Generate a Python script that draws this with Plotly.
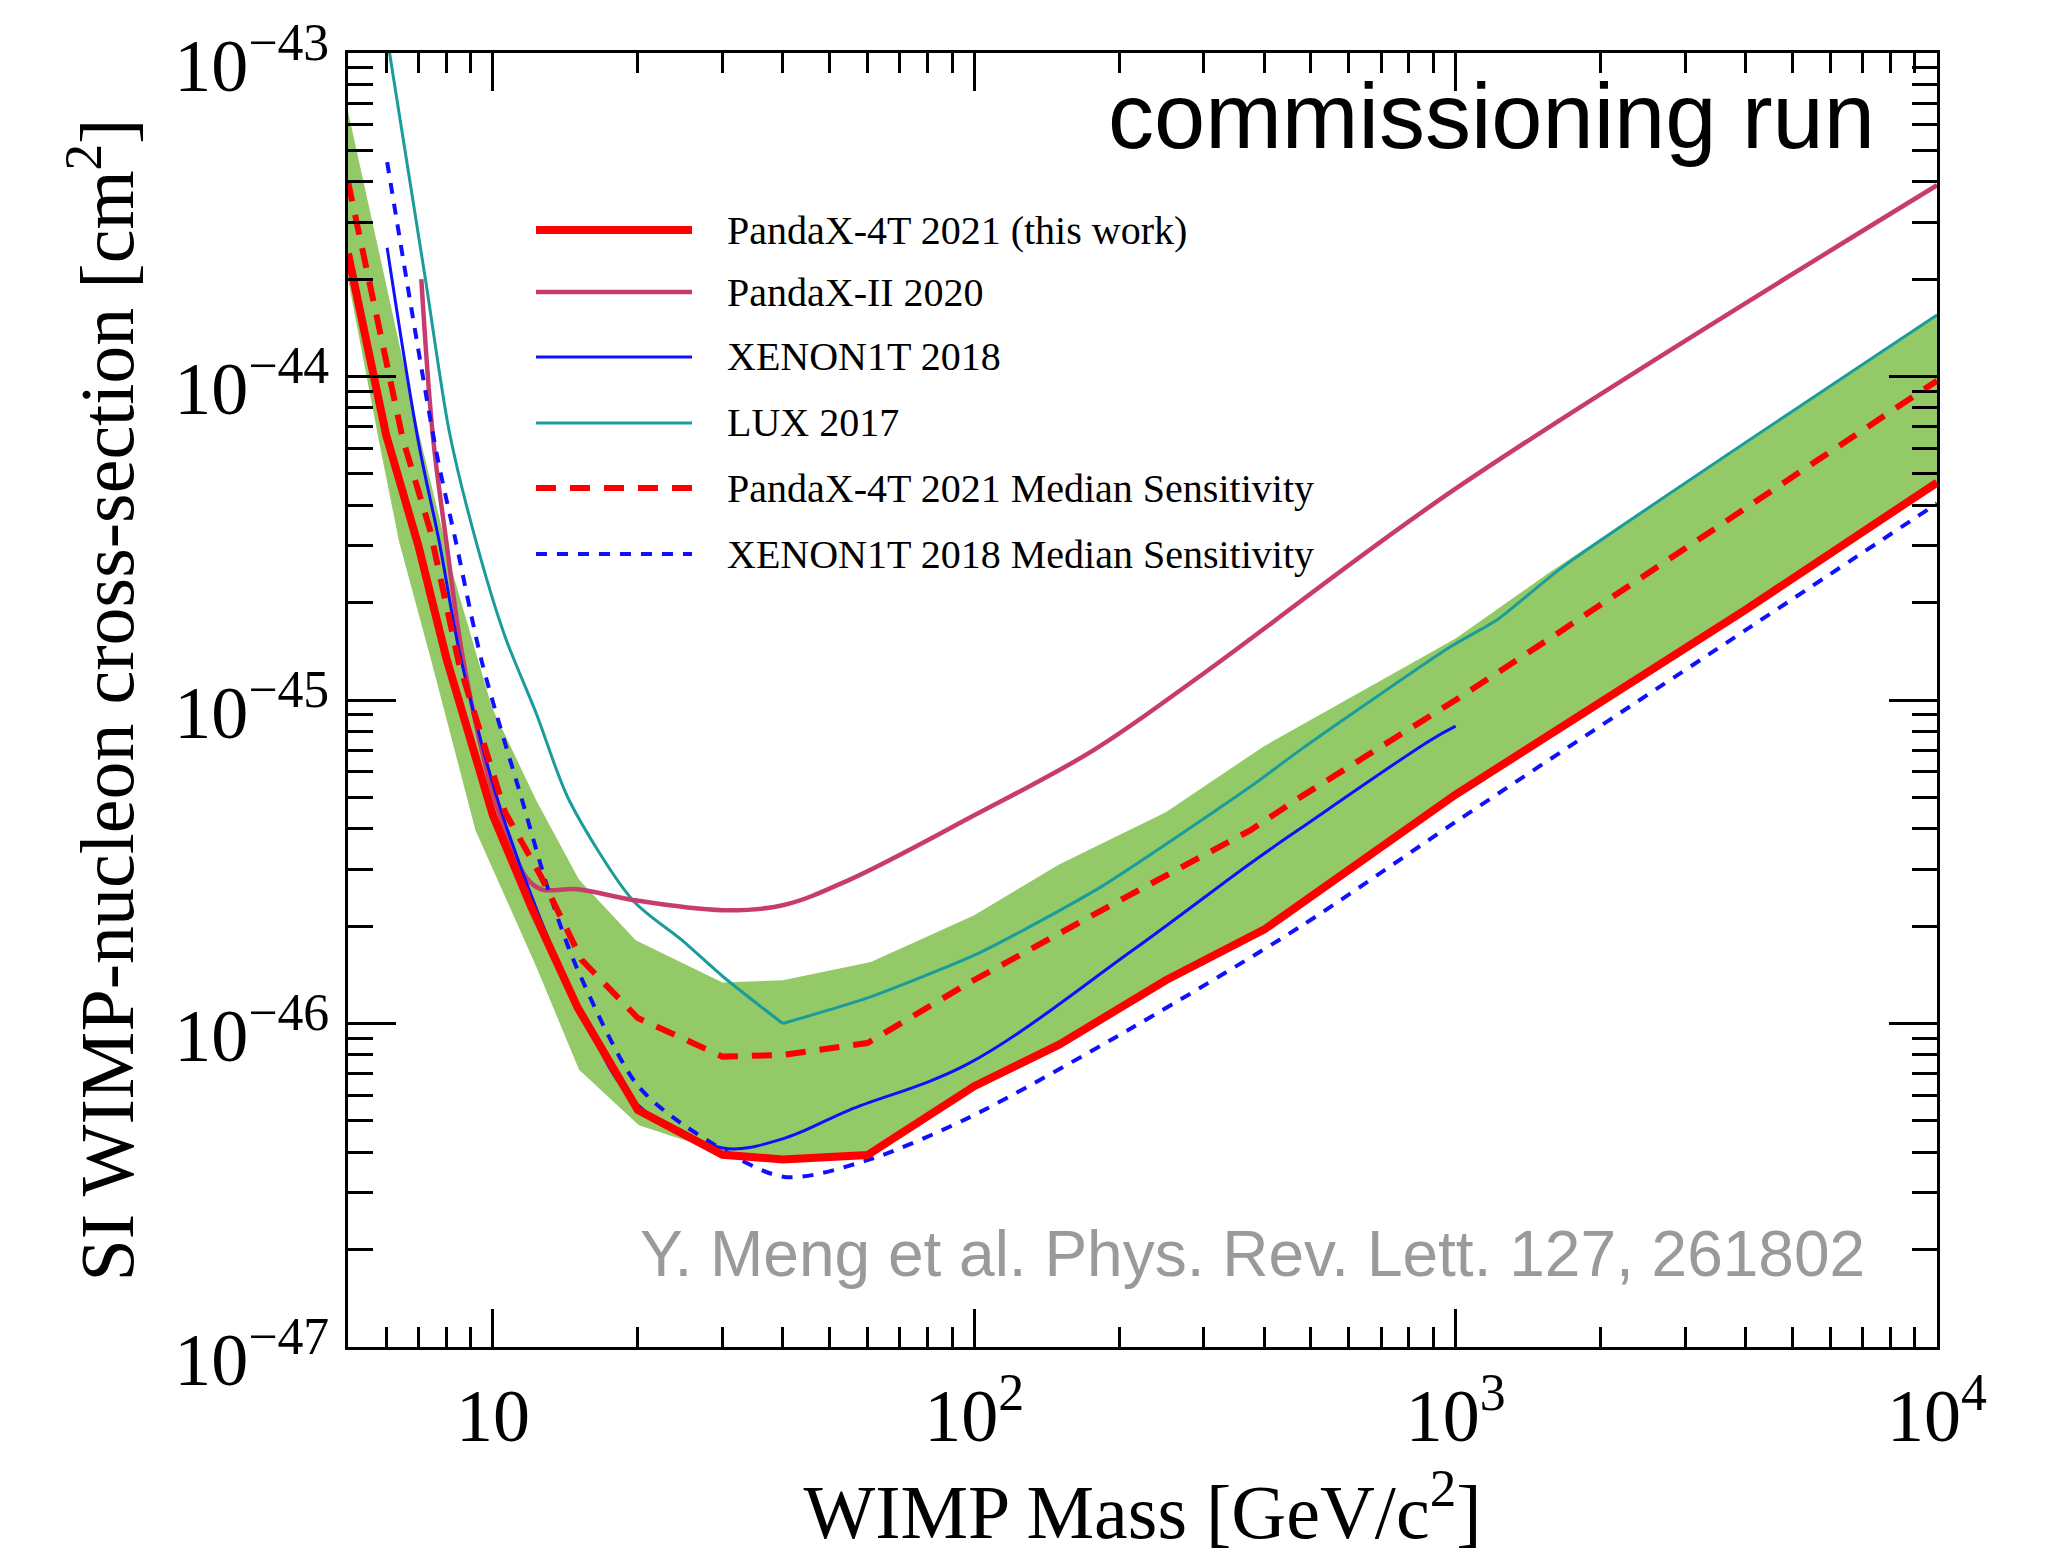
import plotly.graph_objects as go

# ---------------- data ----------------
# PandaX-4T 2021 (this work) - observed limit
m_4t = [5, 6, 7, 8, 10, 12, 15, 20, 30, 40, 60, 100, 150, 250, 400, 1000, 4000, 10000]
s_4t = [2.4e-44, 6.6e-45, 3.0e-45, 1.35e-45, 4.4e-46, 2.3e-46, 1.12e-46, 5.4e-47, 3.93e-47,
        3.8e-47, 3.92e-47, 6.4e-47, 8.6e-47, 1.36e-46, 1.95e-46, 5.1e-46, 1.9e-45, 4.7e-45]

# PandaX-4T 2021 median sensitivity
m_4t_med = [5, 6.5, 7.4, 8.5, 10.6, 12.6, 15.3, 20, 30, 40, 60, 97, 214, 375, 475, 1000, 1570, 10000]
s_4t_med = [4.0e-44, 6.4e-45, 3.36e-45, 1.3e-45, 4.5e-46, 2.84e-46, 1.57e-46, 1.04e-46, 7.9e-47,
            8.0e-47, 8.7e-47, 1.33e-46, 2.53e-46, 3.96e-46, 5.0e-46, 1.0e-45, 1.55e-45, 9.7e-45]

# +/- 1 sigma sensitivity band
m_band_up = [5, 7.0, 8.23, 9.95, 12.3, 15.1, 19.8, 30, 40, 61, 100, 150, 250, 400, 1000, 1550, 10000]
s_band_up = [6.6e-44, 6.8e-45, 2.5e-45, 9.5e-46, 4.9e-46, 2.78e-46, 1.81e-46, 1.34e-46, 1.36e-46,
             1.55e-46, 2.16e-46, 3.1e-46, 4.5e-46, 7.2e-46, 1.55e-45, 2.45e-45, 1.56e-44]
m_band_lo = [5, 5.8, 6.38, 7.47, 9.2, 12.3, 15.1, 20.1, 29, 40, 60, 100, 150, 250, 400, 1000, 4000, 10000]
s_band_lo = [2.0e-44, 6.3e-45, 3.1e-45, 1.3e-45, 3.96e-46, 1.5e-46, 7.2e-47, 4.85e-47, 4.06e-47,
             3.75e-47, 3.88e-47, 6.3e-47, 8.5e-47, 1.35e-46, 1.93e-46, 5.1e-46, 1.9e-45, 4.65e-45]

# PandaX-II 2020
m_p2 = [7.1, 7.5, 8.0, 8.7, 10.1, 11.7, 12.6, 15, 19.5, 30, 40, 55, 100, 177, 300, 1000, 10000]
s_p2 = [2.0e-44, 6.6e-45, 3.1e-45, 1.3e-45, 4.9e-46, 2.84e-46, 2.6e-46, 2.6e-46, 2.41e-46,
        2.24e-46, 2.32e-46, 2.78e-46, 4.4e-46, 7.0e-46, 1.21e-45, 4.5e-45, 3.9e-44]

# XENON1T 2018
m_x1t = [6.03, 7.0, 7.73, 8.62, 10.6, 15, 20, 30, 40, 55, 97, 214, 375, 475, 885, 1000]
s_x1t = [2.5e-44, 6.3e-45, 3.1e-45, 1.3e-45, 4.17e-46, 1.15e-46, 5.6e-47, 4.12e-47, 4.4e-47,
         5.4e-47, 7.5e-47, 1.69e-46, 3.13e-46, 4.0e-46, 7.5e-46, 8.3e-46]

# LUX 2017 (smooth part up to the 40 GeV kink, then the high-mass part)
m_lux = [6.1, 7.26, 8.11, 9.22, 10.6, 12.3, 14.4, 19.5, 24.7, 30, 40, 60, 103, 183, 375, 475,
         975, 1220, 1670, 10000]
s_lux = [1.0e-43, 1.95e-44, 6.8e-45, 3.1e-45, 1.57e-45, 9.1e-46, 4.9e-46, 2.41e-46, 1.81e-46,
         1.4e-46, 1.0e-46, 1.2e-46, 1.66e-46, 2.64e-46, 5.4e-46, 7.0e-46, 1.46e-45, 1.77e-45,
         2.58e-45, 1.55e-44]
lux_kink = 10  # index of the 40 GeV point

# XENON1T 2018 median sensitivity
m_x1t_med = [6.03, 7.62, 8.37, 9.5, 11.5, 13.1, 14.9, 19.8, 24.7, 40, 60, 97, 214, 475, 1000, 4090, 10000]
s_x1t_med = [4.6e-44, 5.9e-45, 3.1e-45, 1.3e-45, 4.9e-46, 2.53e-46, 1.5e-46, 6.55e-47, 4.9e-47,
             3.36e-47, 3.78e-47, 5.1e-47, 9.75e-47, 1.99e-46, 4.2e-46, 1.68e-45, 4.05e-45]

# axis ticks
x_major = [10, 100, 1000, 10000]
x_major_text = ["10", "10<sup>2</sup>", "10<sup>3</sup>", "10<sup>4</sup>"]
x_minor = [6, 7, 8, 9] + [k * 10 for k in range(2, 10)] + [k * 100 for k in range(2, 10)] + \
          [k * 1000 for k in range(2, 10)]
y_major = [1e-47, 1e-46, 1e-45, 1e-44, 1e-43]
y_major_text = ["10<sup>\u221247</sup>", "10<sup>\u221246</sup>", "10<sup>\u221245</sup>",
                "10<sup>\u221244</sup>", "10<sup>\u221243</sup>"]
y_minor = [k * 10.0 ** d for d in range(-47, -43) for k in range(2, 10)]

# legend entries
legend_labels = ["PandaX-4T 2021 (this work)", "PandaX-II 2020", "XENON1T 2018", "LUX 2017",
                 "PandaX-4T 2021 Median Sensitivity", "XENON1T 2018 Median Sensitivity"]

# ---------------- styles ----------------
RED = "#ff0000"
PINK = "#c83c6c"
BLUE = "#1010ff"
TEAL = "#1a9c9c"
GREEN = "#93c966"
SERIF = "Liberation Serif, Times New Roman, serif"
SANS = "Liberation Sans, Arial, Helvetica, sans-serif"

styles = [
    dict(color=RED, width=8, dash="solid"),
    dict(color=PINK, width=4.5, dash="solid"),
    dict(color=BLUE, width=3, dash="solid"),
    dict(color=TEAL, width=3, dash="solid"),
    dict(color=RED, width=6, dash="20px,14px"),
    dict(color=BLUE, width=4, dash="11px,10px"),
]

fig = go.Figure()

# band polygon
fig.add_trace(go.Scatter(
    x=m_band_up + m_band_lo[::-1], y=s_band_up + s_band_lo[::-1],
    fill="toself", fillcolor=GREEN, line=dict(width=0, color=GREEN),
    mode="lines", showlegend=False, hoverinfo="skip"))

fig.add_trace(go.Scatter(x=m_lux[:lux_kink + 1], y=s_lux[:lux_kink + 1], mode="lines",
                         line=dict(**styles[3], shape="spline", smoothing=0.8), showlegend=False))
fig.add_trace(go.Scatter(x=m_lux[lux_kink:], y=s_lux[lux_kink:], mode="lines",
                         line=dict(**styles[3], shape="spline", smoothing=0.6), showlegend=False))
fig.add_trace(go.Scatter(x=m_p2, y=s_p2, mode="lines", line=dict(**styles[1], shape="spline", smoothing=1.0),
                         showlegend=False))
fig.add_trace(go.Scatter(x=m_x1t_med, y=s_x1t_med, mode="lines",
                         line=dict(**styles[5], shape="spline", smoothing=0.8), showlegend=False))
fig.add_trace(go.Scatter(x=m_x1t, y=s_x1t, mode="lines", line=dict(**styles[2], shape="spline", smoothing=1.0),
                         showlegend=False))
fig.add_trace(go.Scatter(x=m_4t_med, y=s_4t_med, mode="lines", line=styles[4], showlegend=False))
fig.add_trace(go.Scatter(x=m_4t, y=s_4t, mode="lines", line=styles[0], showlegend=False))

# manual legend (long line samples like the original)
leg_y = [0.8632, 0.8153, 0.7651, 0.7141, 0.6638, 0.6128]
for lab, st, yy in zip(legend_labels, styles, leg_y):
    fig.add_shape(type="line", xref="x domain", yref="y domain", x0=0.1183, x1=0.2165, y0=yy, y1=yy,
                  line=dict(color=st["color"], width=st["width"], dash=st["dash"]))
    fig.add_annotation(xref="x domain", yref="y domain", x=0.2373, y=yy, xanchor="left", yanchor="middle",
                       text=lab, showarrow=False, font=dict(family=SERIF, size=40, color="black"))

fig.add_annotation(xref="x domain", yref="y domain", x=0.962, y=0.9513, xanchor="right", yanchor="middle",
                   text="commissioning run", showarrow=False, font=dict(family=SANS, size=92, color="black"))
fig.add_annotation(xref="x domain", yref="y domain", x=0.956, y=0.0719, xanchor="right", yanchor="middle",
                   text="Y. Meng et al. Phys. Rev. Lett. 127, 261802", showarrow=False,
                   font=dict(family=SANS, size=64, color="#9a9a9a"))

axis_common = dict(showgrid=False, zeroline=False, showline=True, linecolor="black", linewidth=3,
                   mirror="ticks", ticks="inside", tickcolor="black", tickwidth=2.5,
                   tickfont=dict(family=SERIF, size=74, color="black"))

fig.update_xaxes(type="log", range=[0.69897, 4], tickmode="array", tickvals=x_major, ticktext=x_major_text,
                 ticklen=38, ticklabelstandoff=2,
                 minor=dict(tickmode="array", tickvals=x_minor, ticks="inside", ticklen=20,
                            tickcolor="black", tickwidth=2.5, showgrid=False),
                 title=dict(text="WIMP Mass [GeV/c<sup>2</sup>]", font=dict(family=SERIF, size=76, color="black"),
                            standoff=34),
                 **axis_common)
fig.update_yaxes(type="log", range=[-47, -43], tickmode="array", tickvals=y_major, ticktext=y_major_text,
                 ticklen=48, ticklabelstandoff=1, ticklabelshift=12, ticklabeloverflow="allow",
                 minor=dict(tickmode="array", tickvals=y_minor, ticks="inside", ticklen=25,
                            tickcolor="black", tickwidth=2.5, showgrid=False),
                 title=dict(text="SI WIMP-nucleon cross-section [cm<sup>2</sup>]",
                            font=dict(family=SERIF, size=76, color="black"), standoff=16),
                 **axis_common)

fig.update_layout(width=2059, height=1554, margin=dict(l=348, r=122, t=53, b=207, autoexpand=False),
                  paper_bgcolor="white", plot_bgcolor="white", showlegend=False)

fig.write_html("out.html")
